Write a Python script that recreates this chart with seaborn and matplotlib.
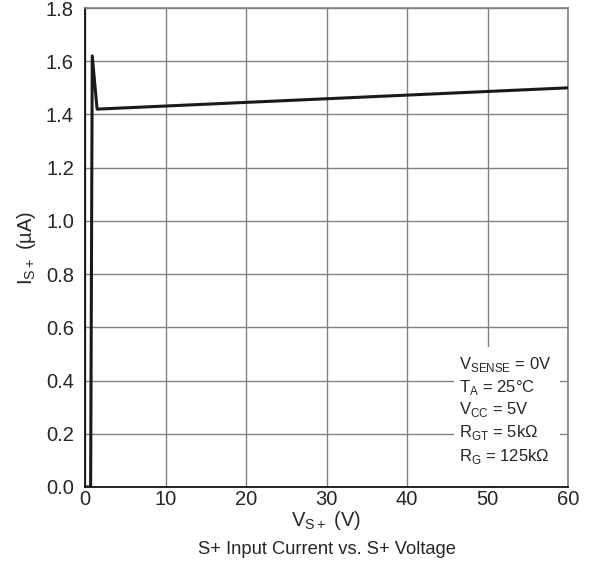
import matplotlib
matplotlib.use("Agg")
import matplotlib.pyplot as plt
import seaborn as sns
import pandas as pd

# Data
v_sp = [0.0, 0.7, 0.9, 1.5, 60.0]
i_sp = [0.0, 0.0, 1.62, 1.42, 1.50]
x_ticks = [0, 10, 20, 30, 40, 50, 60]
y_ticks = [0.0, 0.2, 0.4, 0.6, 0.8, 1.0, 1.2, 1.4, 1.6, 1.8]
y_labels = ["0.0", "0.2", "0.4", "0.6", "0.8", "1.0", "1.2", "1.4", "1.6", "1.8"]
notes = [r"V$_{\mathregular{SENSE}}$ = 0V", r"T$_{\mathregular{A}}$ = 25°C",
         r"V$_{\mathregular{CC}}$ = 5V", r"R$_{\mathregular{GT}}$ = 5kΩ",
         r"R$_{\mathregular{G}}$ = 125kΩ"]

sns.set_theme(style="white")
plt.rcParams['font.family'] = ['Liberation Sans', 'DejaVu Sans']
plt.rcParams['mathtext.fontset'] = 'custom'
plt.rcParams['mathtext.rm'] = 'Liberation Sans'

df = pd.DataFrame({"v": v_sp, "i": i_sp})

fig = plt.figure(figsize=(5.92, 5.67), dpi=100)
ax = fig.add_axes([85/592, 1 - 487/567, (568 - 85)/592, (487 - 8)/567])

sns.lineplot(data=df, x="v", y="i", ax=ax, color="#1a1a1a", linewidth=2.2,
             sort=False, estimator=None, zorder=3)

ax.set_xlim(0, 60)
ax.set_ylim(0, 1.8)
ax.set_xticks(x_ticks)
ax.set_yticks(y_ticks)
ax.set_yticklabels(y_labels)
ax.grid(True, color="#808080", linewidth=1.0)
ax.set_axisbelow(True)
for s in ["top", "right"]:
    ax.spines[s].set_color("#808080")
    ax.spines[s].set_linewidth(1.2)
for s in ["left", "bottom"]:
    ax.spines[s].set_color("black")
    ax.spines[s].set_linewidth(1.2)
ax.tick_params(axis="both", labelsize=14.5, direction="in", length=3,
               color="black")
ax.tick_params(axis="y", pad=8)
ax.tick_params(axis="x", pad=2)

ax.set_xlabel(r"V$_{\mathregular{S+}}$ (V)", fontsize=14.5, labelpad=0)
ax.set_ylabel(r"I$_{\mathregular{S+}}$ (µA)", fontsize=14.5, labelpad=6)

fig.text((85 + 568) / 2 / 592, 1 - 549 / 567, "S+ Input Current vs. S+ Voltage",
         ha="center", va="center", fontsize=13.2)

# Annotation box
from matplotlib.patches import Rectangle
ax.add_patch(Rectangle((45.8, 0.005), 13.2, 0.52, transform=ax.transData,
                       facecolor="white", edgecolor="none", zorder=2))
ys = [0.46, 0.375, 0.29, 0.205, 0.115]
for t, y in zip(notes, ys):
    ax.text(46.5, y, t, fontsize=12, ha="left", va="center", zorder=4)

fig.savefig("out.png", dpi=100)
